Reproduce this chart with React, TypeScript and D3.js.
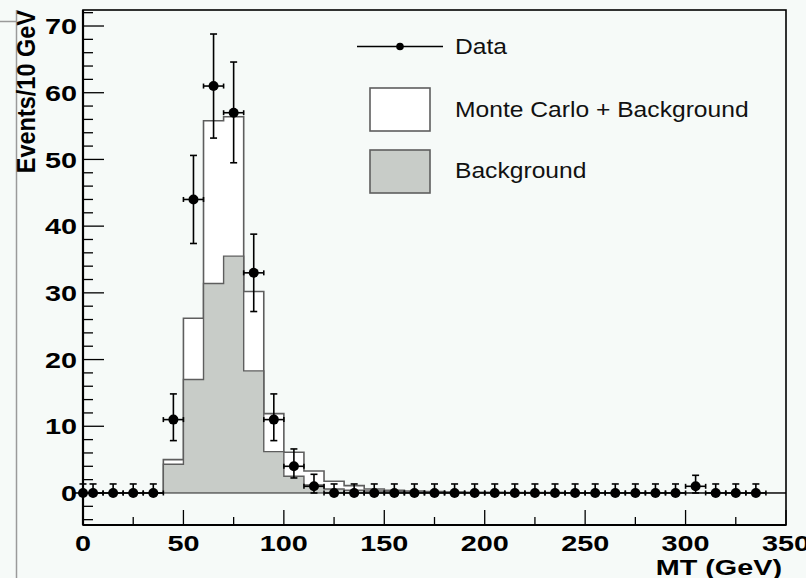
import React from "react";
import * as d3 from "d3";

// Transverse mass histogram, 10 GeV bins from 0 to 350 GeV
const binEdges: number[] = d3.range(0, 351, 10);

// Monte Carlo + Background prediction per bin
const mcPlusBg: number[] = [
  0, 0, 0, 0, 5.0, 26.2, 55.8, 56.4, 30.2, 11.9,
  6.1, 3.3, 1.75, 1.1, 0.6, 0.4, 0.3, 0.2, 0.15, 0.1,
  0.1, 0.08, 0.06, 0.05, 0.04, 0.03, 0.03, 0.02, 0.02, 0.02,
  0.01, 0.01, 0.01, 0.01, 0.01,
];

// Background-only prediction per bin
const background: number[] = [
  0, 0, 0, 0, 4.3, 17.0, 31.4, 35.5, 18.3, 6.2,
  2.5, 1.2, 0.6, 0.4, 0.3, 0.2, 0.15, 0.1, 0.08, 0.06,
  0.05, 0.04, 0.03, 0.02, 0.02, 0.01, 0.01, 0.01, 0.01, 0.01,
  0.01, 0.01, 0.01, 0.01, 0.01,
];

// Observed events (bin centres in GeV) with asymmetric errors
const dataMT: number[] = [
  0, 5, 15, 25, 35, 45, 55, 65, 75, 85, 95, 105, 115, 125, 135, 145, 155, 165,
  175, 185, 195, 205, 215, 225, 235, 245, 255, 265, 275, 285, 295, 305, 315,
  325, 335,
];
const dataEvents: number[] = [
  0, 0, 0, 0, 0, 11, 44, 61, 57, 33, 11, 4, 1, 0, 0, 0, 0, 0,
  0, 0, 0, 0, 0, 0, 0, 0, 0, 0, 0, 0, 0, 1, 0,
  0, 0,
];
const errUp: number[] = [
  1.35, 1.35, 1.35, 1.35, 1.35, 3.85, 6.6, 7.8, 7.6, 5.8, 3.85, 2.6, 1.8, 1.35, 1.35, 1.35, 1.35, 1.35,
  1.35, 1.35, 1.35, 1.35, 1.35, 1.35, 1.35, 1.35, 1.35, 1.35, 1.35, 1.35, 1.35, 1.65, 1.35,
  1.35, 1.35,
];
const errDown: number[] = [
  0, 0, 0, 0, 0, 3.15, 6.6, 7.8, 7.5, 5.8, 3.15, 1.75, 1.0, 0, 0, 0, 0, 0,
  0, 0, 0, 0, 0, 0, 0, 0, 0, 0, 0, 0, 0, 1.0, 0,
  0, 0,
];
const halfBin = 5;

const xMajorTicks: number[] = [0, 50, 100, 150, 200, 250, 300, 350];
const xMinorTicks: number[] = [25, 75, 125, 175, 225, 275, 325];
const yMajorTicks: number[] = [0, 10, 20, 30, 40, 50, 60, 70];
const yMinorTicks: number[] = d3.range(-4, 73, 2).filter((v) => v % 10 !== 0);

const legendItems: string[] = ["Data", "Monte Carlo + Background", "Background"];

const W = 806;
const H = 578;
const left = 83;
const right = 786;
const top = 10;
const bottom = 525;

const BG_COLOR = "#f6faf8";
const FILL_GRAY = "#c8ccc8";
const LINE_GRAY = "#5e5e5e";
const FONT = "'Liberation Sans', Arial, Helvetica, sans-serif";
// glyphs are drawn slightly wide
const AXIS_STRETCH = 1.28;
const LEGEND_STRETCH = 1.12;

function stepPoints(values: number[]): [number, number][] {
  const pts: [number, number][] = [[binEdges[0], 0]];
  values.forEach((v, i) => {
    pts.push([binEdges[i], v]);
    pts.push([binEdges[i + 1], v]);
  });
  pts.push([binEdges[binEdges.length - 1], 0]);
  return pts;
}

function WideText(props: {
  x: number;
  y: number;
  sx: number;
  anchor?: string;
  dy?: string;
  children: React.ReactNode;
}) {
  return (
    <text
      transform={`translate(${props.x},${props.y}) scale(${props.sx},1)`}
      textAnchor={props.anchor ?? "start"}
      dy={props.dy}
    >
      {props.children}
    </text>
  );
}

export default function App() {
  const x = d3.scaleLinear().domain([0, 350]).range([left, right]);
  const y = d3.scaleLinear().domain([-4.8, 72.4]).range([bottom, top]);

  const line = d3
    .line<[number, number]>()
    .x((d) => x(d[0]))
    .y((d) => y(d[1]));
  const area = d3
    .area<[number, number]>()
    .x((d) => x(d[0]))
    .y0(y(0))
    .y1((d) => y(d[1]));

  const mcPts = stepPoints(mcPlusBg);
  const bgPts = stepPoints(background);

  return (
    <svg
      width={W}
      height={H}
      style={{ position: "absolute", left: 0, top: 0, background: BG_COLOR }}
    >
      <rect x={0} y={0} width={W} height={H} fill={BG_COLOR} />
      {/* slide border lines at the left edge */}
      <line x1={0} x2={16.5} y1={21.5} y2={21.5} stroke="#9a9a9a" strokeWidth={1.5} />
      <line x1={16.5} x2={16.5} y1={10} y2={H} stroke="#9a9a9a" strokeWidth={1.5} />

      {/* histograms */}
      <clipPath id="plotArea">
        <rect x={left} y={top} width={right - left} height={bottom - top} />
      </clipPath>
      <g clipPath="url(#plotArea)">
        <path d={area(mcPts) ?? ""} fill="#ffffff" />
        <path d={line(mcPts) ?? ""} fill="none" stroke={LINE_GRAY} strokeWidth={1.6} />
        <path d={area(bgPts) ?? ""} fill={FILL_GRAY} />
        <path d={line(bgPts) ?? ""} fill="none" stroke={LINE_GRAY} strokeWidth={1.4} />
        <line x1={left} x2={right} y1={y(0)} y2={y(0)} stroke="#222" strokeWidth={1.2} />
      </g>

      {/* data points with error bars */}
      <g stroke="#000" strokeWidth={1.6}>
        {dataMT.map((mt, i) => {
          const cx = x(mt);
          const cy = y(dataEvents[i]);
          const yTop = y(dataEvents[i] + errUp[i]);
          const yBot = y(dataEvents[i] - errDown[i]);
          const xl = x(mt - halfBin);
          const xr = x(mt + halfBin);
          return (
            <g key={i}>
              <line x1={cx} x2={cx} y1={yTop} y2={yBot} />
              <line x1={cx - 3.5} x2={cx + 3.5} y1={yTop} y2={yTop} />
              {errDown[i] > 0 && <line x1={cx - 3.5} x2={cx + 3.5} y1={yBot} y2={yBot} />}
              <line x1={xl} x2={xr} y1={cy} y2={cy} />
              <line x1={xl} x2={xl} y1={cy - 2.5} y2={cy + 2.5} />
              <line x1={xr} x2={xr} y1={cy - 2.5} y2={cy + 2.5} />
              <circle cx={cx} cy={cy} r={5} fill="#000" stroke="none" />
            </g>
          );
        })}
      </g>

      {/* frame */}
      <rect
        x={left}
        y={top}
        width={right - left}
        height={bottom - top}
        fill="none"
        stroke="#000"
        strokeWidth={1.6}
      />
      <line x1={left} x2={left} y1={top} y2={bottom} stroke="#000" strokeWidth={2.2} />
      <line x1={left} x2={right} y1={bottom} y2={bottom} stroke="#000" strokeWidth={2.2} />

      {/* axis ticks */}
      <g stroke="#000" strokeWidth={1.3}>
        {yMajorTicks.map((v) => (
          <line key={"ym" + v} x1={left} x2={left + 21} y1={y(v)} y2={y(v)} />
        ))}
        {yMinorTicks.map((v) => (
          <line key={"yn" + v} x1={left} x2={left + 10} y1={y(v)} y2={y(v)} />
        ))}
        {xMajorTicks.map((v) => (
          <line key={"xm" + v} x1={x(v)} x2={x(v)} y1={bottom} y2={bottom - 15} />
        ))}
        {xMinorTicks.map((v) => (
          <line key={"xn" + v} x1={x(v)} x2={x(v)} y1={bottom} y2={bottom - 8} />
        ))}
      </g>

      {/* tick labels and axis titles */}
      <g fontFamily={FONT} fontWeight="bold" fontSize={22.5} fill="#000">
        {yMajorTicks.map((v) => (
          <WideText key={"yl" + v} x={77} y={y(v)} sx={AXIS_STRETCH} anchor="end" dy="0.36em">
            {v}
          </WideText>
        ))}
        {xMajorTicks.map((v) => (
          <WideText key={"xl" + v} x={x(v)} y={550.5} sx={AXIS_STRETCH} anchor="middle">
            {v}
          </WideText>
        ))}
        <WideText x={782} y={575} sx={AXIS_STRETCH} anchor="end">
          MT (GeV)
        </WideText>
        <text
          transform={`translate(35, 10) scale(1.12,1) rotate(-90)`}
          textAnchor="end"
          fontSize={23.5}
        >
          Events/10 GeV
        </text>
      </g>

      {/* legend */}
      <g fontFamily={FONT} fontSize={22} fill="#111">
        <line x1={357} x2={443} y1={46.5} y2={46.5} stroke="#000" strokeWidth={1.3} />
        <circle cx={400} cy={46.5} r={3.8} fill="#000" />
        <WideText x={455} y={54} sx={LEGEND_STRETCH}>{legendItems[0]}</WideText>

        <rect x={370} y={88} width={60} height={43} fill="#ffffff" stroke={LINE_GRAY} strokeWidth={1.6} />
        <WideText x={455} y={117} sx={LEGEND_STRETCH}>{legendItems[1]}</WideText>

        <rect x={370} y={150} width={60} height={43} fill={FILL_GRAY} stroke={LINE_GRAY} strokeWidth={1.6} />
        <WideText x={455} y={178} sx={LEGEND_STRETCH}>{legendItems[2]}</WideText>
      </g>
    </svg>
  );
}
